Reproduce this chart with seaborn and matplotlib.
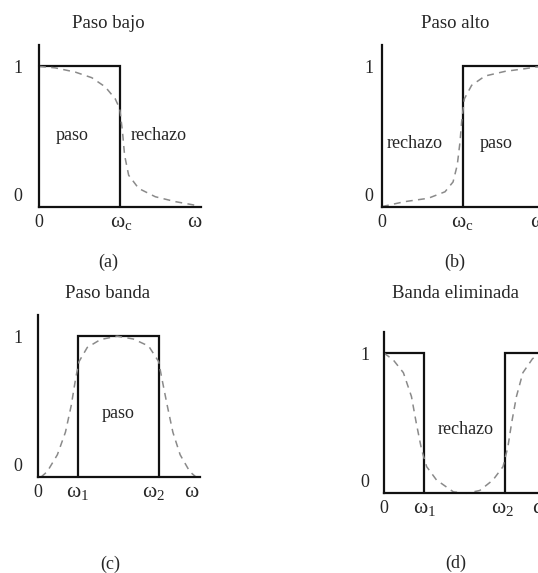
import matplotlib
matplotlib.use("Agg")
import matplotlib.pyplot as plt
import seaborn as sns

# ---------------- data ----------------
wc = 0.5
w1 = 0.25
w2 = 0.75

# ideal responses (outline points)
ideal_lp_x = [0.0, wc, wc]
ideal_lp_y = [1.0, 1.0, 0.0]
ideal_hp_x = [wc, wc, 1.0]
ideal_hp_y = [0.0, 1.0, 1.0]
ideal_bp_x = [w1, w1, w2, w2]
ideal_bp_y = [0.0, 1.0, 1.0, 0.0]
ideal_bs1_x = [0.0, w1, w1]
ideal_bs1_y = [1.0, 1.0, 0.0]
ideal_bs2_x = [w2, w2, 1.0]
ideal_bs2_y = [0.0, 1.0, 1.0]

real_lp_x = [0.0, 0.10, 0.224, 0.327, 0.41, 0.472, 0.50, 0.517, 0.53, 0.555, 0.617, 0.72, 0.845, 0.99]
real_lp_y = [1.0, 0.99, 0.96, 0.92, 0.855, 0.77, 0.70, 0.536, 0.37, 0.228, 0.134, 0.075, 0.04, 0.01]

real_hp_x = [0.0, 0.14, 0.286, 0.39, 0.44, 0.466, 0.483, 0.493, 0.51, 0.555, 0.638, 0.762, 0.886, 0.948, 1.0]
real_hp_y = [0.005, 0.04, 0.064, 0.11, 0.18, 0.30, 0.464, 0.606, 0.77, 0.866, 0.932, 0.965, 0.984, 0.995, 1.0]

real_bp_x = [0.017, 0.057, 0.12, 0.17, 0.206, 0.233, 0.254, 0.305, 0.387, 0.49, 0.59, 0.685, 0.747, 0.767, 0.80, 0.835, 0.88, 0.94, 0.98]
real_bp_y = [0.0, 0.04, 0.16, 0.32, 0.51, 0.70, 0.82, 0.92, 0.976, 1.0, 0.98, 0.93, 0.82, 0.70, 0.51, 0.32, 0.16, 0.04, 0.0]

real_bs_x = [0.0, 0.058, 0.12, 0.17, 0.20, 0.233, 0.264, 0.325, 0.43, 0.51, 0.593, 0.675, 0.737, 0.767, 0.79, 0.82, 0.86, 0.92, 0.98]
real_bs_y = [1.0, 0.95, 0.86, 0.69, 0.50, 0.31, 0.19, 0.095, 0.01, 0.0, 0.02, 0.095, 0.19, 0.33, 0.50, 0.69, 0.86, 0.96, 1.0]

titles = ["Paso bajo", "Paso alto", "Paso banda", "Banda eliminada"]
captions = ["(a)", "(b)", "(c)", "(d)"]
xlabels_lp = ["0", r"$\omega_\mathrm{c}$", r"$\omega$"]
xlabels_hp = ["0", r"$\omega_\mathrm{c}$", r"$\omega$"]
xlabels_bp = ["0", r"$\omega_1$", r"$\omega_2$", r"$\omega$"]
xlabels_bs = ["0", r"$\omega_1$", r"$\omega_2$", r"$\omega$"]
ylabels = ["0", "1"]

# ---------------- style ----------------
sns.set_style("white")
plt.rcParams["font.family"] = ["Liberation Serif", "DejaVu Serif"]
plt.rcParams["mathtext.fontset"] = "custom"
plt.rcParams["mathtext.rm"] = "Liberation Serif"
plt.rcParams["mathtext.it"] = "Liberation Serif"
plt.rcParams["mathtext.bf"] = "Liberation Serif:bold"

W, H = 538, 573
fig = plt.figure(figsize=(W / 100, H / 100), dpi=100)
fig.patch.set_facecolor("white")

FS = 13
TFS = 13.5
WFS = 15.5


def make_ax(left_px, base_px, width_px=161.5, height_px=162.0):
    ax = fig.add_axes([left_px / W, (H - base_px) / H, width_px / W, height_px / H])
    ax.set_xlim(0, 1)
    ax.set_ylim(0, 1.15)
    for s in ["top", "right"]:
        ax.spines[s].set_visible(False)
    for s in ["left", "bottom"]:
        ax.spines[s].set_color("#111111")
        ax.spines[s].set_linewidth(1.6)
    ax.set_xticks([])
    ax.set_yticks([])
    ax.patch.set_alpha(0)
    return ax


def lab(ax, s, x, y, dx, dy, va="baseline"):
    fs = WFS if "omega" in s else FS
    ax.annotate(s, xy=(x, y), xytext=(dx * 0.72, -dy * 0.72), textcoords="offset points",
                ha="center", va=va, fontsize=fs, annotation_clip=False)


def ftext(s, x, y, fs=FS, va="center"):
    fig.text(x / W, 1 - y / H, s, ha="center", va=va, fontsize=fs)


def ideal(ax, xs, ys):
    sns.lineplot(x=xs, y=ys, ax=ax, sort=False, estimator=None, color="#111111",
                 linewidth=1.6, clip_on=False, solid_joinstyle="miter")


def real(ax, xs, ys):
    sns.lineplot(x=xs, y=ys, ax=ax, sort=False, estimator=None, color="#8a8a8a",
                 linewidth=1.1, linestyle=(0, (4.5, 3.5)), clip_on=False)


# ---- (a) low pass ----
axa = make_ax(39, 207.3)
ideal(axa, ideal_lp_x, ideal_lp_y)
real(axa, real_lp_x, real_lp_y)
lab(axa, ylabels[1], 0, 1, -21, 7)
lab(axa, ylabels[0], 0, 0, -21, -6)
for s, xv, dx in zip(xlabels_lp, [0, wc, 1.0], [0, 1, -6]):
    lab(axa, s, xv, 0, dx, 20)
ftext(titles[0], 108, 28, TFS, va="baseline")
ftext(captions[0], 108, 262)
ftext("paso", 72, 136)
ftext("rechazo", 159, 136)

# ---- (b) high pass ----
axb = make_ax(382, 207.3)
ideal(axb, ideal_hp_x, ideal_hp_y)
real(axb, real_hp_x, real_hp_y)
lab(axb, ylabels[1], 0, 1, -13, 7)
lab(axb, ylabels[0], 0, 0, -13, -6)
for s, xv, dx in zip(xlabels_hp, [0, wc, 1.0], [0, -1, -6]):
    lab(axb, s, xv, 0, dx, 20)
ftext(titles[1], 455, 28, TFS, va="baseline")
ftext(captions[1], 455, 262)
ftext("rechazo", 415, 143)
ftext("paso", 496, 143)

# ---- (c) band pass ----
axc = make_ax(38, 477.3, height_px=162.3)
ideal(axc, ideal_bp_x, ideal_bp_y)
real(axc, real_bp_x, real_bp_y)
lab(axc, ylabels[1], 0, 1, -20, 7)
lab(axc, ylabels[0], 0, 0, -20, -6)
for s, xv, dx in zip(xlabels_bp, [0, w1, w2, 1.0], [0, -1, -6, -8]):
    lab(axc, s, xv, 0, dx, 20)
ftext(titles[2], 108, 298, TFS, va="baseline")
ftext(captions[2], 110, 564)
ftext("paso", 118, 413)

# ---- (d) band stop ----
axd = make_ax(384, 493.3, height_px=161.3)
ideal(axd, ideal_bs1_x, ideal_bs1_y)
ideal(axd, ideal_bs2_x, ideal_bs2_y)
real(axd, real_bs_x, real_bs_y)
lab(axd, ylabels[1], 0, 1, -19, 7)
lab(axd, ylabels[0], 0, 0, -19, -6)
for s, xv, dx in zip(xlabels_bs, [0, w1, w2, 1.0], [0, 0, -3, -6]):
    lab(axd, s, xv, 0, dx, 20)
ftext(titles[3], 455, 298, TFS, va="baseline")
ftext(captions[3], 456, 563)
ftext("rechazo", 466, 429)

fig.savefig("out.png", dpi=100, facecolor="white")
